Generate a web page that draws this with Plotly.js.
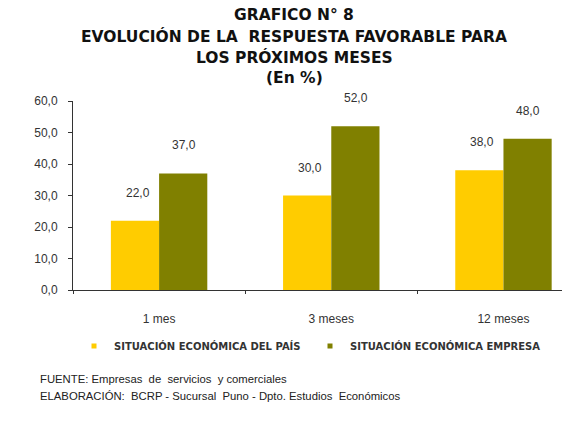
<!DOCTYPE html>
<html><head><meta charset="utf-8">
<script src="https://cdn.plot.ly/plotly-3.0.1.min.js"></script>
<style>body{margin:0;background:#fff}#c{width:582px;height:432px}</style>
</head><body><div id="c"></div>
<script>
const categories = ["1 mes", "3 meses", "12 meses"];
const pais = [22.0, 30.0, 38.0];
const empresa = [37.0, 52.0, 48.0];
const seriesNames = ["SITUACIÓN ECONÓMICA DEL PAÍS", "SITUACIÓN ECONÓMICA EMPRESA"];
const yTicks = [0, 10, 20, 30, 40, 50, 60];
const titleLines = ["GRAFICO N° 8", "EVOLUCIÓN DE LA  RESPUESTA FAVORABLE PARA", "LOS PRÓXIMOS MESES", "(En %)"];
const footLines = ["FUENTE: Empresas  de  servicios  y comerciales", "ELABORACIÓN:  BCRP - Sucursal  Puno - Dpto. Estudios  Económicos"];

const F = "Liberation Sans, Arial, sans-serif";
const colors = ["#FFCC00", "#808000"];
const ML = 73, MT = 101, MB = 142, H = 432, PH = H - MT - MB;
const py = p => (H - MB - p) / PH;   // pixel y -> paper y
const px = p => (p - ML) / (582 - ML - 20);

const traces = [];
[pais, empresa].forEach((v, i) => {
  traces.push({type: "bar", x: categories, y: v, name: seriesNames[i], showlegend: false,
    marker: {color: colors[i]}});
});
seriesNames.forEach((n, i) => {
  traces.push({type: "scatter", mode: "markers", x: [null], y: [null], name: n,
    legend: i === 0 ? "legend" : "legend2",
    marker: {symbol: "square", size: 5, color: colors[i]}});
});

const ann = [];
[pais, empresa].forEach((v, i) => {
  v.forEach((val, j) => {
    ann.push({x: categories[j], y: val, xref: "x", yref: "y", text: val.toFixed(1).replace(".", ","),
      showarrow: false, yanchor: "bottom", yshift: 19, xshift: i === 0 ? -21 : 25,
      font: {family: F, size: 12, color: "#333"}});
  });
});
const titleY = [15, 36, 57, 78];
titleLines.forEach((t, k) => {
  ann.push({xref: "paper", yref: "paper", x: px(294), y: py(titleY[k]), xanchor: "center", yanchor: "middle",
    showarrow: false, text: "<b>" + t + "</b>", font: {family: "DejaVu Sans, sans-serif", size: 15.5, color: "#111"}});
});
const footY = [379, 396];
footLines.forEach((t, k) => {
  ann.push({xref: "paper", yref: "paper", x: px(38), y: py(footY[k]), xanchor: "left", yanchor: "middle",
    showarrow: false, text: t, font: {family: F, size: 11.3, color: "#222"}});
});

const legFont = {family: "DejaVu Sans, sans-serif", size: 10, color: "#333", weight: "bold"};
const layout = {
  width: 582, height: 432,
  margin: {l: ML, r: 20, t: MT, b: MB},
  paper_bgcolor: "#fff", plot_bgcolor: "#fff",
  separators: ",.",
  barmode: "group", bargap: 0.44, bargroupgap: 0,
  xaxis: {type: "category", range: [-0.5, 2.34], showline: true, linecolor: "#333", linewidth: 1,
    ticks: "outside", tickson: "boundaries", ticklen: 3, tickcolor: "#333", ticklabelstandoff: 18,
    tickfont: {family: F, size: 12, color: "#333"}, showgrid: false, zeroline: false},
  yaxis: {range: [0, 60], tickvals: yTicks, tickformat: ".1f", showline: true, linecolor: "#333", linewidth: 1,
    ticks: "outside", ticklen: 4, tickcolor: "#333", showgrid: false, zeroline: false, ticklabelstandoff: 8,
    tickfont: {family: F, size: 12, color: "#333"}},
  showlegend: true,
  legend: {orientation: "h", x: px(74), xanchor: "left", y: py(346), yanchor: "middle",
    bgcolor: "rgba(0,0,0,0)", font: legFont, itemwidth: 30},
  legend2: {orientation: "h", x: px(310), xanchor: "left", y: py(346), yanchor: "middle",
    bgcolor: "rgba(0,0,0,0)", font: legFont, itemwidth: 30},
  annotations: ann
};
Plotly.newPlot("c", traces, layout, {staticPlot: true});
</script></body></html>
